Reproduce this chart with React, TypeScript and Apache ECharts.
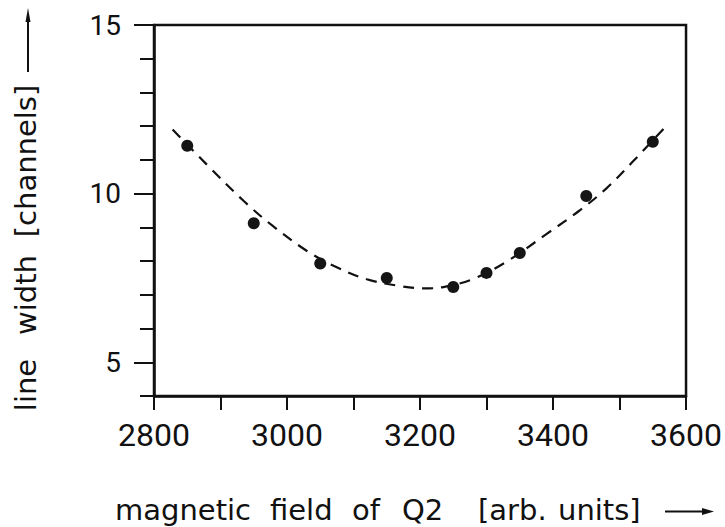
import React, { useEffect, useRef } from "react";
import * as echarts from "echarts";

// measured points
const dataX = [2850, 2950, 3050, 3150, 3250, 3300, 3350, 3450, 3550];
const dataY = [11.42, 9.12, 7.93, 7.5, 7.23, 7.65, 8.24, 9.93, 11.54];

// dashed fit curve
const curveX = [2828, 2880, 2935, 2980, 3030, 3070, 3120, 3170, 3205, 3235, 3280, 3330, 3390, 3440, 3480, 3520, 3570];
const curveY = [11.9, 10.85, 9.78, 9.02, 8.3, 7.86, 7.46, 7.26, 7.19, 7.23, 7.47, 7.98, 8.8, 9.5, 10.15, 10.95, 12.0];

const xLabelValues = [2800, 3000, 3200, 3400, 3600];
const yLabelValues = [5, 10, 15];
const yMinorTicks = [4, 5, 6, 7, 8, 9, 10, 11, 12, 13, 14, 15];

const xTitleWords = ["magnetic", "field", "of", "Q2", "[arb.", "units]"];
const yTitleWords = ["line", "width", "[channels]"];

export default function App() {
  const ref = useRef<HTMLDivElement>(null);
  useEffect(() => {
    if (!ref.current) return;
    const chart = echarts.init(ref.current, null, { renderer: "svg" });
    const ink = "#111";
    const titleFont = "DejaVu Sans";
    const xWordPos = [115, 270, 352, 402, 478, 558];
    const yWordCenters = [385, 295, 161];
    chart.setOption({
      animation: false,
      backgroundColor: "#fff",
      grid: {
        left: 154,
        right: 37,
        top: 25,
        bottom: 131,
        show: true,
        borderColor: ink,
        borderWidth: 2.5,
        backgroundColor: "transparent",
      },
      xAxis: {
        type: "value",
        min: 2800,
        max: 3600,
        interval: 100,
        axisLine: { show: true, lineStyle: { color: ink, width: 2.5 } },
        axisTick: { show: true, length: 14, lineStyle: { color: ink, width: 2 } },
        splitLine: { show: false },
        axisLabel: {
          margin: 23,
          color: ink,
          fontFamily: "Roboto",
          fontSize: 32,
          formatter: (v: number) => (xLabelValues.includes(v) ? String(v) : ""),
        },
      },
      yAxis: [
        {
          type: "value",
          min: 4,
          max: 15,
          interval: 1,
          axisLine: { show: true, lineStyle: { color: ink, width: 2.5 } },
          axisTick: {
            show: true,
            length: 20,
            customValues: yLabelValues,
            lineStyle: { color: ink, width: 2 },
          },
          splitLine: { show: false },
          axisLabel: {
            margin: 33,
            color: ink,
            fontFamily: "Roboto",
            fontSize: 28,
            customValues: yLabelValues,
          },
        },
        {
          type: "value",
          position: "left",
          min: 4,
          max: 15,
          interval: 1,
          axisLine: { show: false },
          axisTick: {
            show: true,
            length: 14,
            customValues: yMinorTicks,
            lineStyle: { color: ink, width: 2 },
          },
          splitLine: { show: false },
          axisLabel: { show: false },
        },
      ],
      series: [
        {
          type: "line",
          data: curveX.map((x, i) => [x, curveY[i]]),
          smooth: 0.35,
          showSymbol: false,
          symbol: "none",
          lineStyle: { color: ink, width: 2.2, type: [11, 8] },
          z: 2,
        },
        {
          type: "scatter",
          data: dataX.map((x, i) => [x, dataY[i]]),
          symbol: "circle",
          symbolSize: 12,
          itemStyle: { color: "#151515", opacity: 1 },
          z: 3,
        },
      ],
      graphic: [
        ...xTitleWords.map((w, i) => ({
          type: "text",
          x: xWordPos[i],
          y: 510,
          style: {
            text: w,
            font: `29px "${titleFont}"`,
            fill: ink,
            align: "left",
            verticalAlign: "middle",
          },
        })),
        ...yTitleWords.map((w, i) => ({
          type: "text",
          x: 26,
          y: yWordCenters[i],
          rotation: Math.PI / 2,
          style: {
            text: w,
            font: `29px "${titleFont}"`,
            fill: ink,
            align: "center",
            verticalAlign: "middle",
          },
        })),
        {
          type: "line",
          shape: { x1: 665, y1: 511.5, x2: 706, y2: 511.5 },
          style: { stroke: ink, lineWidth: 2 },
        },
        {
          type: "polygon",
          shape: { points: [[702, 508], [714, 511.5], [702, 515]] },
          style: { fill: ink },
        },
        {
          type: "line",
          shape: { x1: 28, y1: 72, x2: 28, y2: 18 },
          style: { stroke: ink, lineWidth: 2 },
        },
        {
          type: "polygon",
          shape: { points: [[25.5, 22], [28, 8], [30.5, 22]] },
          style: { fill: ink },
        },
      ],
    });
    return () => chart.dispose();
  }, []);
  return (
    <div
      ref={ref}
      style={{ position: "absolute", left: 0, top: 0, width: 725, height: 527 }}
    />
  );
}
